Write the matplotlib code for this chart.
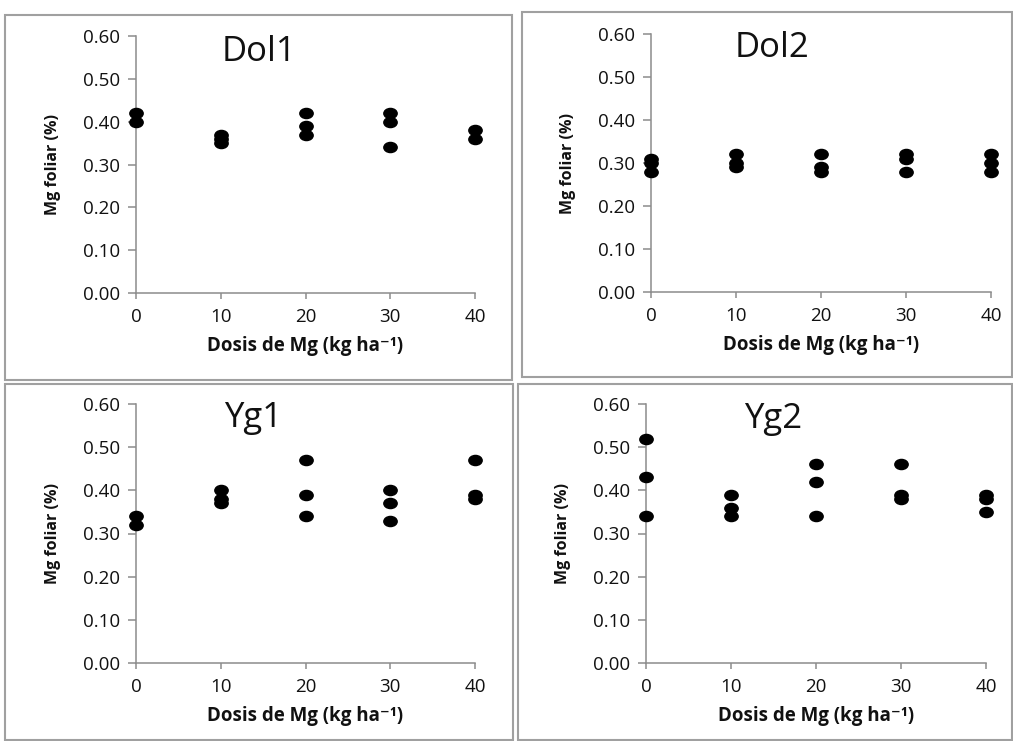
import matplotlib
matplotlib.use("Agg")
import matplotlib.pyplot as plt
from matplotlib.path import Path
from matplotlib.transforms import Affine2D
from matplotlib.patches import Rectangle

plt.rcParams['font.family'] = ['Open Sans', 'DejaVu Sans']

# ---- data ----
doses = [0, 10, 20, 30, 40]
dol1 = [[0.42, 0.40], [0.37, 0.36, 0.35], [0.42, 0.39, 0.37], [0.42, 0.40, 0.34], [0.38, 0.36]]
dol2 = [[0.31, 0.30, 0.28], [0.32, 0.30, 0.29], [0.32, 0.29, 0.28], [0.32, 0.31, 0.28], [0.32, 0.30, 0.28]]
yg1 = [[0.34, 0.32], [0.40, 0.38, 0.37], [0.47, 0.39, 0.34], [0.40, 0.37, 0.33], [0.47, 0.39, 0.38]]
yg2 = [[0.52, 0.43, 0.34], [0.39, 0.36, 0.34], [0.46, 0.42, 0.34], [0.46, 0.39, 0.38], [0.39, 0.38, 0.35]]
titles = ["Dol1", "Dol2", "Yg1", "Yg2"]
series = [dol1, dol2, yg1, yg2]
xticks = [0, 10, 20, 30, 40]
yticks = [0.0, 0.1, 0.2, 0.3, 0.4, 0.5, 0.6]
xlabel = "Dosis de Mg (kg ha\u207b\u00b9)"
ylabel = "Mg foliar (%)"

W, H = 1013, 741
fig = plt.figure(figsize=(W / 100, H / 100), dpi=100)

def px(l, r, t, b):
    return [l / W, 1 - b / H, (r - l) / W, (b - t) / H]

axes_px = [(136, 475, 36, 293), (651, 991, 34, 292), (136, 475, 404, 663), (646, 986, 404, 663)]
frames_px = [(5, 512, 15, 380), (522, 1012, 12, 377), (5, 513, 384, 740), (518, 1012, 384, 740)]
title_pos = [(0.363, 0.938), (0.356, 0.946), (0.345, 0.946), (0.374, 0.942)]

for (l, r, t, b) in frames_px:
    fig.patches.append(Rectangle((l / W, 1 - b / H), (r - l) / W, (b - t) / H,
                                 transform=fig.transFigure, fill=False,
                                 edgecolor='#a0a0a0', linewidth=1.5))

ell = Path.unit_circle().transformed(Affine2D().scale(1.0, 0.76))
spine_c = '#8c8c8c'

for i, ax_px in enumerate(axes_px):
    ax = fig.add_axes(px(*ax_px))
    data = series[i]
    for x, vals in zip(doses, data):
        ax.plot([x] * len(vals), vals, linestyle='none', marker=ell, ms=9.6,
                color='black', clip_on=False, zorder=5)
    ax.set_xlim(0, 40)
    ax.set_ylim(0, 0.6)
    ax.set_xticks(xticks)
    ax.set_yticks(yticks)
    ax.set_xticklabels([str(v) for v in xticks])
    ax.set_yticklabels([f"{v:.2f}" for v in yticks])
    for s in ['top', 'right']:
        ax.spines[s].set_visible(False)
    for s in ['left', 'bottom']:
        ax.spines[s].set_color(spine_c)
        ax.spines[s].set_linewidth(1.1)
    ax.tick_params(axis='both', colors=spine_c, labelcolor='#111111', labelsize=13.5, width=1.1)
    ax.tick_params(axis='y', length=5.5, pad=6)
    ax.tick_params(axis='x', length=4, pad=7)
    ax.text(0.5, -0.205, xlabel, transform=ax.transAxes, ha='center', va='center',
            fontsize=13.5, fontweight='bold', color='#111111')
    ax.text(-0.245, 0.5, ylabel, transform=ax.transAxes, ha='center', va='center',
            rotation=90, fontsize=11.5, fontweight='bold', color='#111111')
    tx, ty = title_pos[i]
    ax.text(tx, ty, titles[i], transform=ax.transAxes, ha='center', va='center',
            fontsize=25, color='#111111')

fig.savefig("out.png", dpi=100)
